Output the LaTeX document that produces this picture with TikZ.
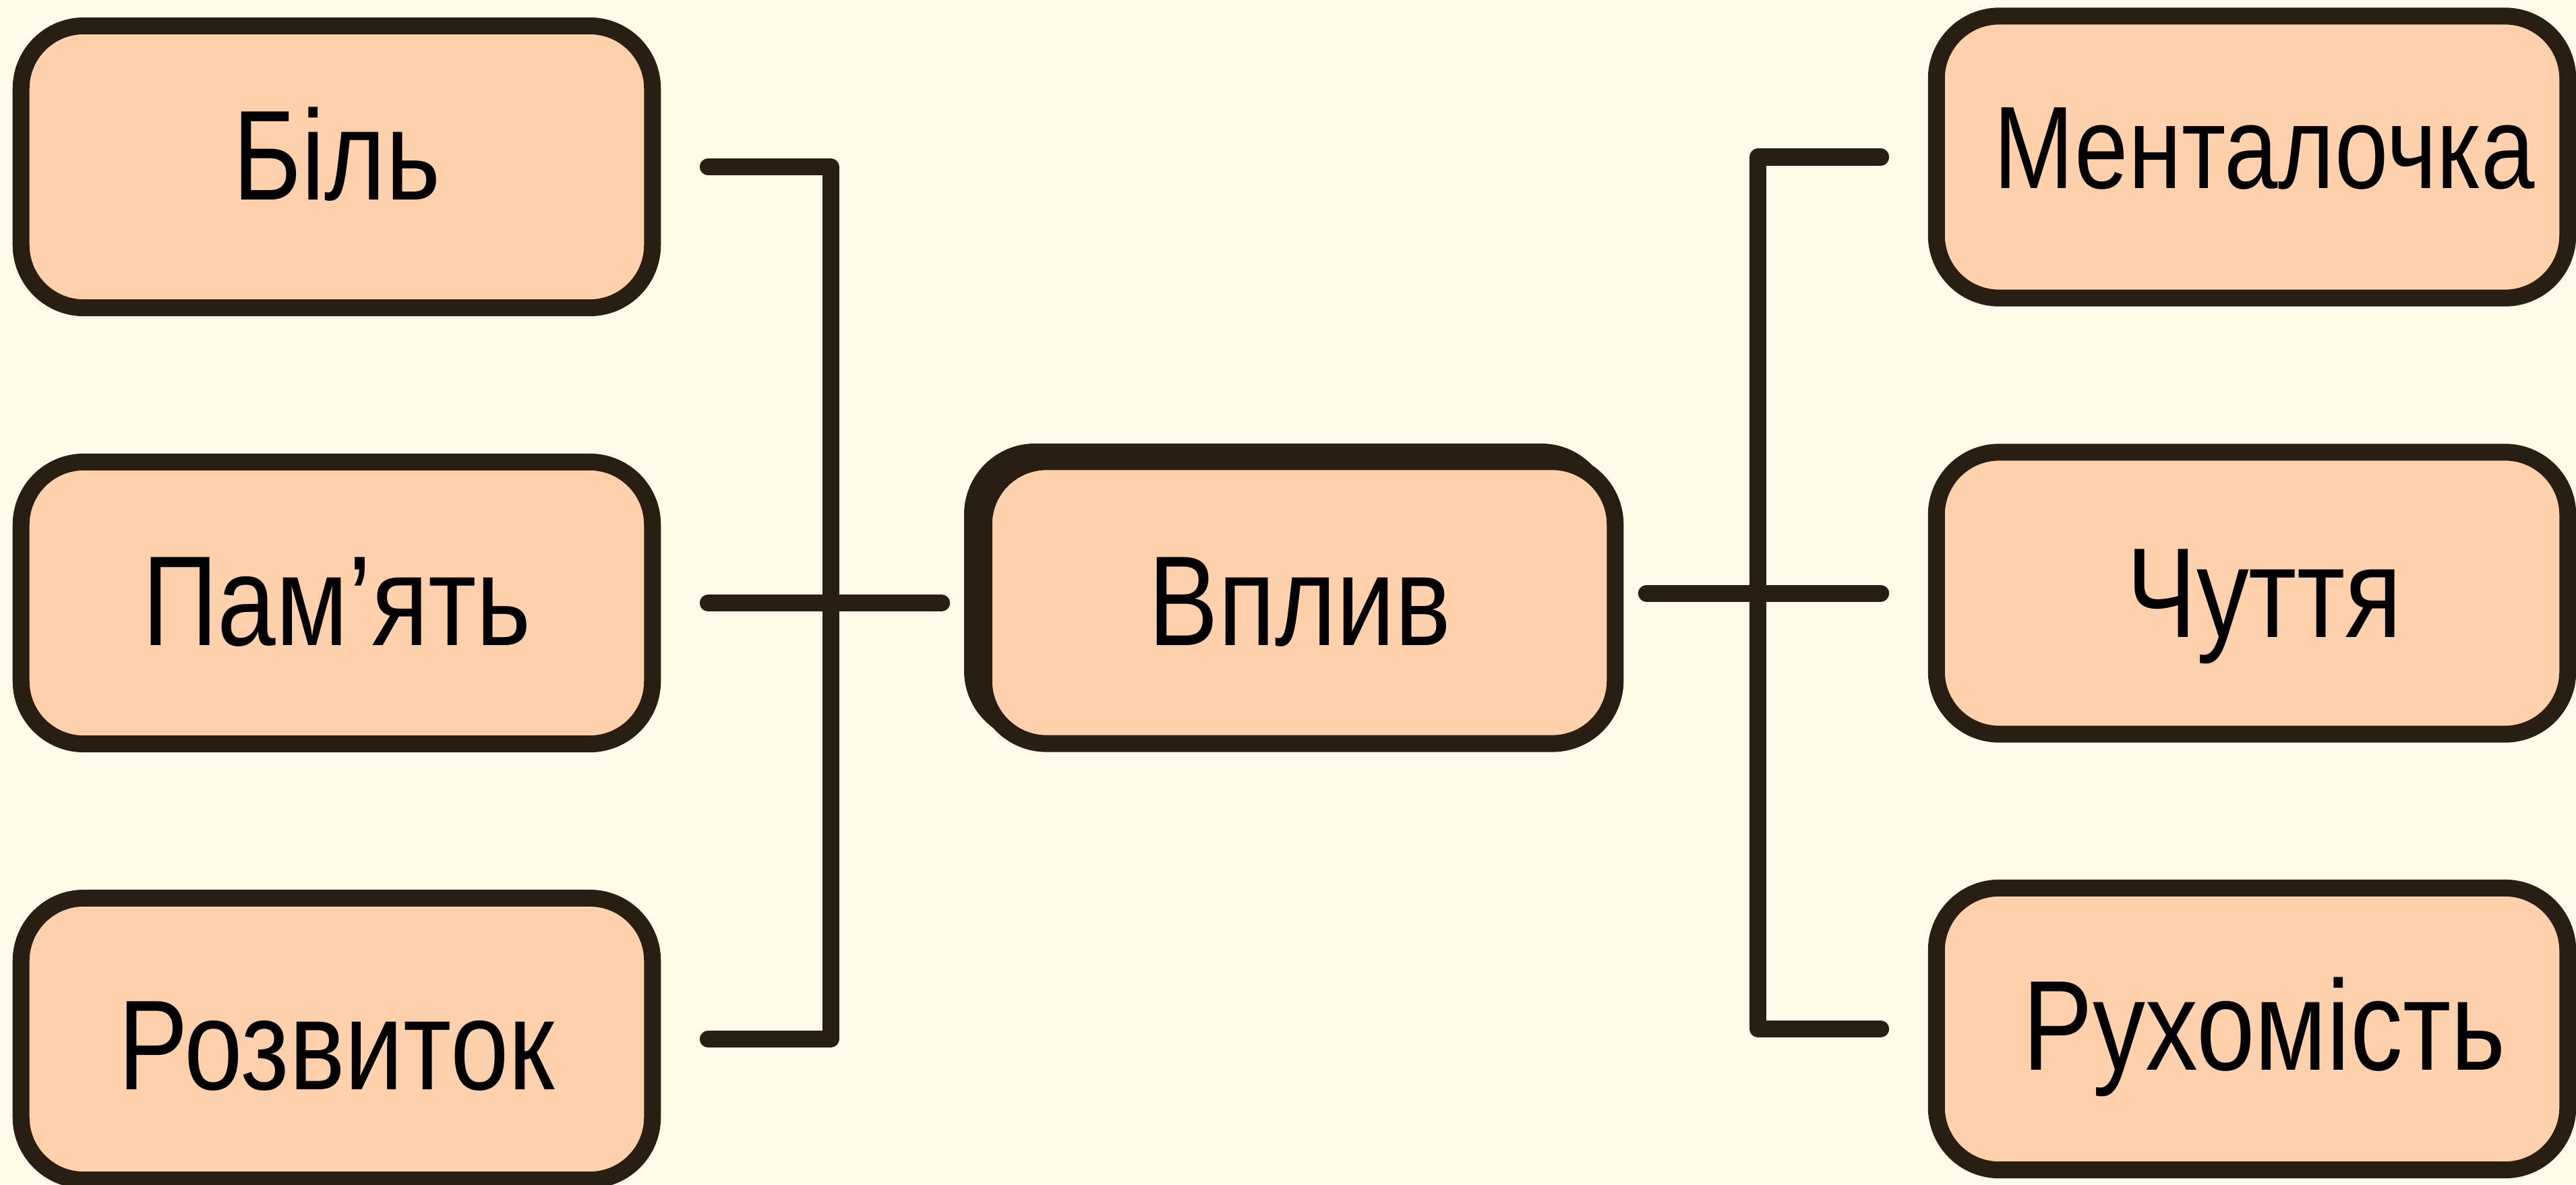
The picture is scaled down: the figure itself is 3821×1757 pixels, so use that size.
\documentclass[tikz,border=0pt]{standalone}
\usepackage{fontspec}
\setmainfont{Liberation Sans}[FakeStretch=0.82]
\definecolor{bgc}{HTML}{FFFBE8}
\definecolor{peach}{HTML}{FFD0AC}
\definecolor{dark}{HTML}{281E14}
\tikzset{
  box/.style={draw=dark, fill=peach, line width=0.25cm, rounded corners=0.93cm,
    minimum width=9.36cm, minimum height=4.18cm, inner sep=0pt,
    font=\fontsize{54pt}{60pt}\selectfont, text=black},
  tc/.style={text height=#1, text depth=0pt},
  conn/.style={draw=dark, line width=0.25cm, line cap=round, line join=round}
}
\begin{document}
\begin{tikzpicture}[x=0.01cm, y=-0.01cm]
\fill[bgc] (0,0) rectangle (3821,1757);
\useasboundingbox (0,0) rectangle (3821,1757);
% left column
\node[box, tc=0.97cm] (bil) at (499.5,247.5) {Біль};
\node[box, tc=1.25cm] (pam) at (499.5,894.5) {Пам’ять};
\node[box, tc=1.50cm] (rozv) at (499.5,1541.5) {Розвиток};
% centre
\coordinate (vc) at (1927.5,894);
\fill[dark, rounded corners=1.05cm] ([shift={(-17,-15)}]vc) ++(-480.5,-221) rectangle ++(961,442);
\node[box, tc=1.26cm] (vplyv) at (vc) {Вплив};
% right column
\node[box, tc=0.92cm, font=\fontsize{49.5pt}{56pt}\selectfont] (ment) at (3340.5,233) {\hspace{0.36cm}Менталочка};
\node[box, tc=1.30cm] (chut) at (3340.5,880) {\hspace{0.36cm}Чуття};
\node[box, tc=1.21cm] (ruh) at (3340.5,1526.5) {\hspace{0.36cm}Рухомість};
% connectors left
\coordinate (lb) at (1232,894);
\draw[conn] ([xshift=0.7cm]bil.east) -- (lb |- bil.east) -- (lb |- rozv.east) -- ([xshift=0.7cm]rozv.east);
\draw[conn] ([xshift=0.7cm]pam.east) -- ([xshift=-0.5cm]vplyv.west |- pam.east);
% connectors right
\coordinate (rb) at (2607.5,880);
\coordinate (vr) at ([xshift=0.34cm]vplyv.east);
\draw[conn] ([xshift=-0.7cm]ment.west) -- (rb |- ment.west) -- (rb |- ruh.west) -- ([xshift=-0.7cm]ruh.west);
\draw[conn] (vr |- chut.west) -- ([xshift=-0.7cm]chut.west);
\end{tikzpicture}
\end{document}
